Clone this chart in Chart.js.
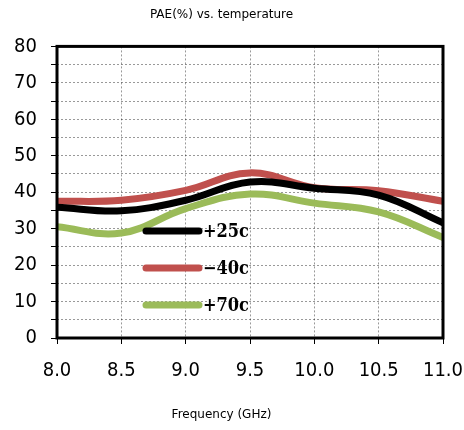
<!DOCTYPE html>
<html>
<head>
<meta charset="utf-8">
<script src="https://cdn.jsdelivr.net/npm/chart.js@4"></script>
<style>
  html, body { margin: 0; padding: 0; background: #fff; }
  #wrap { width: 464px; height: 430px; }
</style>
</head>
<body>
<div id="wrap"><canvas id="c"></canvas></div>
<script>
// frequency points (GHz)
const freqs = [8.0, 8.5, 9.0, 9.5, 10.0, 10.5, 11.0];
// PAE (%) per temperature
const pae25 = [35.9, 34.9, 37.8, 42.8, 41.1, 39.2, 31.6];
const paeM40 = [37.5, 37.8, 40.5, 45.3, 41.2, 40.4, 37.5];
const pae70 = [30.5, 28.8, 35.5, 39.5, 37.0, 34.6, 27.6];
const seriesNames = ['+25c', '\u221240c', '+70c'];

const tickFont = {family: "'DejaVu Sans Condensed', 'DejaVu Sans'", size: 20};
const smallFont = {family: "'DejaVu Sans'", size: 12, weight: 'normal'};

function toXY(ys){ return freqs.map((f,i)=>({x:f, y:ys[i]})); }

// draws the thick frame and the in-plot legend
const frameAndLegend = {
  id: 'frameAndLegend',
  afterDatasetsDraw(chart){
    const {ctx, chartArea:a} = chart;
    ctx.save();
    ctx.lineWidth = 3;
    ctx.strokeStyle = '#000';
    ctx.strokeRect(a.left, a.top, a.right - a.left, a.bottom - a.top);
    // legend
    const x0 = 146, x1 = 199, y0 = 231, dy = 37;
    ctx.lineCap = 'round';
    ctx.font = "bold 18px 'DejaVu Serif Condensed', 'DejaVu Serif'";
    ctx.textBaseline = 'middle';
    chart.data.datasets.forEach((ds,i)=>{
      const y = y0 + i*dy;
      ctx.strokeStyle = ds.borderColor;
      ctx.lineWidth = 7;
      ctx.beginPath(); ctx.moveTo(x0,y); ctx.lineTo(x1,y); ctx.stroke();
      ctx.fillStyle = '#000';
      ctx.fillText(ds.label, x1 + 4, y + 1);
    });
    ctx.restore();
  }
};

const gridOpts = {color: 'rgba(0,0,0,0.4)', lineWidth: 1, tickLength: 6, tickColor: '#000', tickWidth: 1};

new Chart(document.getElementById('c'), {
  type: 'line',
  data: {
    datasets: [
      {label: seriesNames[0], data: toXY(pae25), borderColor: '#000000'},
      {label: seriesNames[1], data: toXY(paeM40), borderColor: '#c0504d'},
      {label: seriesNames[2], data: toXY(pae70), borderColor: '#9bbb59'}
    ]
  },
  options: {
    responsive: true,
    maintainAspectRatio: false,
    animation: false,
    layout: {padding: {left: 0, right: 21, top: 0, bottom: 0}},
    elements: {
      line: {borderWidth: 7, tension: 0.4, borderCapStyle: 'round'},
      point: {radius: 0}
    },
    plugins: {
      legend: {display: false},
      tooltip: {enabled: false},
      title: {display: true, text: 'PAE(%) vs. temperature', color: '#000', font: smallFont,
              padding: {top: 8, bottom: 24}},
      subtitle: {display: true, position: 'bottom', text: 'Frequency (GHz)', color: '#000', font: smallFont,
                 padding: {top: 0, bottom: 8}}
    },
    scales: {
      x: {
        type: 'linear', min: 8, max: 11,
        afterFit: s => { s.height = 69.6; s.paddingLeft = 0; s.paddingRight = 0; },
        ticks: {stepSize: 0.5, autoSkip: false, maxRotation: 0, color: '#000', font: tickFont, padding: 15,
                callback: v => v.toFixed(1)},
        grid: gridOpts,
        border: {display: false, dash: [2, 2]}
      },
      y: {
        min: 0, max: 80,
        afterFit: s => { s.width = 57; s.paddingTop = 0; s.paddingBottom = 0; },
        ticks: {stepSize: 5, autoSkip: false, color: '#000', font: tickFont, padding: 14,
                callback: v => (v % 10 === 0 ? v : '')},
        grid: gridOpts,
        border: {display: false, dash: [2, 2]}
      }
    }
  },
  plugins: [frameAndLegend]
});
</script>
</body>
</html>
